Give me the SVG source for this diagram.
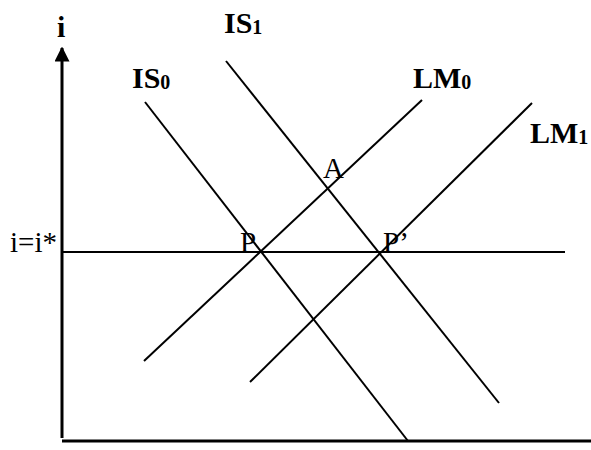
<svg xmlns="http://www.w3.org/2000/svg" width="591" height="450" viewBox="0 0 591 450">
<style>
.ln{stroke:#000;stroke-width:2;fill:none}
.ax{stroke:#000;stroke-width:3;fill:none}
.lb{font-family:"Liberation Serif","Times New Roman",serif;font-weight:bold;font-size:30px;fill:#000}
.pt{font-family:"Liberation Serif","Times New Roman",serif;font-size:29px;fill:#000}
.sub{font-size:20px}
</style>
<defs>
<marker id="arr" viewBox="0 0 10 10" refX="9" refY="5" markerWidth="5" markerHeight="5" orient="auto" markerUnits="strokeWidth">
<path d="M0,0 L10,5 L0,10 z" fill="#000"/>
</marker>
</defs>
<rect width="591" height="450" fill="#fff"/>
<g id="axes">
<line class="ax" x1="62" y1="438" x2="62" y2="48" marker-end="url(#arr)"/>
<line class="ax" x1="62" y1="441" x2="591" y2="441"/>
<text class="lb" x="57" y="37">i</text>
</g>
<g id="connectors">
<line id="istar" class="ln" x1="62" y1="252" x2="565" y2="252"/>
<line id="IS0-line" class="ln" x1="145" y1="102" x2="408" y2="441"/>
<line id="IS1-line" class="ln" x1="226" y1="61" x2="499" y2="403"/>
<line id="LM0-line" class="ln" x1="144" y1="361" x2="422" y2="100"/>
<line id="LM1-line" class="ln" x1="250" y1="382" x2="532" y2="103"/>
</g>
<g id="IS0"><text class="lb" x="132" y="88">IS<tspan class="sub" dy="1">0</tspan></text></g>
<g id="IS1"><text class="lb" x="224" y="33">IS<tspan class="sub" dy="1">1</tspan></text></g>
<g id="LM0"><text class="lb" x="413" y="88">LM<tspan class="sub" dy="1">0</tspan></text></g>
<g id="LM1"><text class="lb" x="530" y="143">LM<tspan class="sub" dy="1">1</tspan></text></g>
<g id="A"><text class="pt" x="323" y="178">A</text></g>
<g id="P"><text class="pt" x="240" y="252">P</text></g>
<g id="Pp"><text class="pt" x="383" y="252">P’</text></g>
<g id="istar-label"><text class="pt" x="10" y="252">i=i*</text></g>
</svg>
